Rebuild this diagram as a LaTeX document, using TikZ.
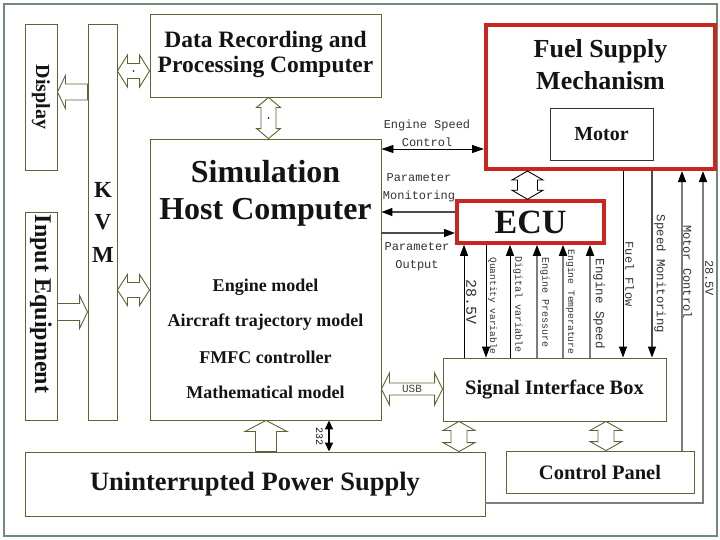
\documentclass[tikz,border=0pt]{standalone}
\usepackage{fontspec}
\setmainfont{Liberation Serif}
\newfontfamily\monof{Liberation Mono}
\usetikzlibrary{arrows.meta,calc}
\definecolor{boxc}{RGB}{88,104,52}
\definecolor{redc}{RGB}{200,38,30}
\definecolor{framec}{RGB}{110,140,120}
\definecolor{gline}{RGB}{125,125,125}
\definecolor{dline}{RGB}{75,75,75}
\definecolor{txtc}{RGB}{20,20,20}
% horizontal double block arrow: left point, right point, shaft half, head half, head length
\newcommand\hdbl[6][boxc]{%
 \draw[draw=#1, line width=0.9pt, fill=white] let \p1=#2, \p2=#3 in
 (\x1,\y1) -- (\x1+#6pt,\y1+#5pt) -- (\x1+#6pt,\y1+#4pt) -- (\x2-#6pt,\y1+#4pt) -- (\x2-#6pt,\y1+#5pt) -- (\x2,\y1)
 -- (\x2-#6pt,\y1-#5pt) -- (\x2-#6pt,\y1-#4pt) -- (\x1+#6pt,\y1-#4pt) -- (\x1+#6pt,\y1-#5pt) -- cycle;}
% vertical double block arrow: top point, bottom point
\newcommand\vdbl[6][boxc]{%
 \draw[draw=#1, line width=0.9pt, fill=white] let \p1=#2, \p2=#3 in
 (\x1,\y1) -- (\x1+#5pt,\y1-#6pt) -- (\x1+#4pt,\y1-#6pt) -- (\x1+#4pt,\y2+#6pt) -- (\x1+#5pt,\y2+#6pt) -- (\x1,\y2)
 -- (\x1-#5pt,\y2+#6pt) -- (\x1-#4pt,\y2+#6pt) -- (\x1-#4pt,\y1-#6pt) -- (\x1-#5pt,\y1-#6pt) -- cycle;}
% horizontal single block arrow: tail, tip
\newcommand\hsgl[6][boxc]{%
 \draw[draw=#1, line width=0.9pt, fill=white] let \p1=#2, \p2=#3, \n1={(\x2>\x1)*2-1} in
 (\x1,\y1+#4pt) -- ({\x2-\n1*#6pt},\y1+#4pt) -- ({\x2-\n1*#6pt},\y1+#5pt) -- (\x2,\y1)
 -- ({\x2-\n1*#6pt},\y1-#5pt) -- ({\x2-\n1*#6pt},\y1-#4pt) -- (\x1,\y1-#4pt) -- cycle;}
% vertical single block arrow: tail, tip
\newcommand\vsgl[6][boxc]{%
 \draw[draw=#1, line width=0.9pt, fill=white] let \p1=#2, \p2=#3, \n1={(\y2>\y1)*2-1} in
 (\x1+#4pt,\y1) -- (\x1+#4pt,{\y2-\n1*#6pt}) -- (\x1+#5pt,{\y2-\n1*#6pt}) -- (\x1,\y2)
 -- (\x1-#5pt,{\y2-\n1*#6pt}) -- (\x1-#4pt,{\y2-\n1*#6pt}) -- (\x1-#4pt,\y1) -- cycle;}
\begin{document}
\begin{tikzpicture}[x=1pt,y=1pt,
 every node/.style={inner sep=0pt, text=txtc},
 box/.style={draw=boxc, line width=0.9pt, inner sep=0pt},
 redbox/.style={draw=redc, line width=4pt, inner sep=0pt},
 ttl/.style={font=\bfseries\fontsize{20.5}{28}\selectfont, align=center},
 lbl/.style={font=\monof\fontsize{12}{18}\selectfont, text=black!80, align=center},
 vlbl/.style={lbl, rotate=-90, anchor=south},
 tip/.style={-{Triangle[length=11pt,width=8pt,color=black]}},
 cblack/.style={draw=black, line width=0.9pt},
 cdark/.style={draw=dline, line width=1.2pt},
 cgray/.style={draw=gline, line width=1.6pt},
]
\useasboundingbox (0,0) rectangle (720,-539);
\draw[framec, line width=1.2pt] (4,-4) rectangle (717,-536);

% boxes
\node[box, minimum width=32pt, minimum height=146pt] (display) at (41,-97) {};
\node[box, minimum width=29pt, minimum height=396pt] (kvm) at (102.5,-222) {};
\node[box, minimum width=32pt, minimum height=208pt] (input) at (41,-316) {};
\node[box, minimum width=231pt, minimum height=83pt] (drpc) at (265.5,-55.5) {};
\node[box, minimum width=231pt, minimum height=281pt] (sim) at (265.5,-279.5) {};
\node[redbox, minimum width=229pt, minimum height=144pt] (fsm) at (600.5,-97) {};
\node[draw=black!80, line width=0.9pt, minimum width=103pt, minimum height=52pt] (motor) at (601.5,-134) {};
\node[redbox, minimum width=147pt, minimum height=41.5pt] (ecu) at (530.5,-222) {};
\node[box, minimum width=223pt, minimum height=63pt] (sib) at (554.5,-389.5) {};
\node[box, minimum width=188pt, minimum height=42pt] (cp) at (600,-472) {};
\node[box, minimum width=460pt, minimum height=64pt] (ups) at (255,-484) {};

% box texts
\node[rotate=-90, font=\bfseries\fontsize{20}{24}\selectfont] (displayt) at (display.center) {Display};
\node[rotate=-90, font=\bfseries\fontsize{24}{26}\selectfont] (inputt) at (41,-304) {Input Equipment};
\node[align=center, font=\bfseries\fontsize{23}{32.5}\selectfont] (kvmt) at (103,-222) {K\\V\\M};
\node[align=center, font=\bfseries\fontsize{23.5}{25}\selectfont] (drpct) at (265.5,-54) {Data Recording and\\Processing Computer};
\node[align=center, font=\bfseries\fontsize{32}{37}\selectfont] (simt) at (265.5,-193) {Simulation\\Host Computer};
\node[font=\bfseries\fontsize{18}{20}\selectfont] (m1) at (265.5,-287) {Engine model};
\node[font=\bfseries\fontsize{18}{20}\selectfont] (m2) at (265.5,-322) {Aircraft trajectory model};
\node[font=\bfseries\fontsize{18}{20}\selectfont] (m3) at (265.5,-357) {FMFC controller};
\node[font=\bfseries\fontsize{18}{20}\selectfont] (m4) at (265.5,-392) {Mathematical model};
\node[align=center, font=\bfseries\fontsize{26}{32}\selectfont] (fsmt) at (600.5,-65) {Fuel Supply\\Mechanism};
\node[font=\bfseries\fontsize{20}{24}\selectfont] (motort) at (motor.center) {Motor};
\node[font=\bfseries\fontsize{34}{40}\selectfont] (ecut) at (ecu.center) {ECU};
\node[ttl] (sibt) at (sib.center) {Signal Interface Box};
\node[ttl] (cpt) at (cp.center) {Control Panel};
\node[font=\bfseries\fontsize{26.5}{30}\selectfont] (upst) at (ups.center) {Uninterrupted Power Supply};

% block arrows
\hsgl{(kvm.west |- 0,-92)}{(display.east |- 0,-92)}{8}{16.5}{8}
\hsgl{(input.east |- 0,-312)}{(kvm.west |- 0,-312)}{8.5}{16.5}{8}
\hdbl{(kvm.east |- 0,-71)}{(drpc.west |- 0,-71)}{7.5}{16}{10}
\fill ($(kvm.east |- 0,-71)!0.5!(drpc.west |- 0,-71)$) circle (0.9pt);
\hdbl{(kvm.east |- 0,-290)}{(sim.west |- 0,-290)}{7.5}{15.5}{10}
\vdbl{(drpc.south -| 268.5,0)}{(sim.north -| 268.5,0)}{7.5}{12}{10}
\fill ($(drpc.south -| 268.5,0)!0.5!(sim.north -| 268.5,0)$) circle (0.9pt);
\vdbl[black]{(fsm.south -| 527.5,0)}{(ecu.north -| 527.5,0)}{10}{15.5}{9}
\hdbl{(sim.east |- 0,-389)}{(sib.west |- 0,-389)}{6}{16}{8}
\node[font=\monof\fontsize{11}{12}\selectfont, text=black!75] (usb) at ($(sim.east |- 0,-389)!0.5!(sib.west |- 0,-389)$) {USB};
\vsgl{(ups.north -| 266,0)}{(sim.south -| 266,0)}{10.5}{21}{11}
\vdbl{(sib.south -| 459,0)}{(ups.north -| 459,0)}{8}{16}{9}
\vdbl{(sib.south -| 606,0)}{(cp.north -| 606,0)}{8}{16}{9}

% RS232
\draw[draw=black, line width=1.6pt, {Triangle[length=9pt,width=8pt]}-{Triangle[length=9pt,width=8pt]}] (ups.north -| 329,0) -- (sim.south -| 329,0);
\node[rotate=-90, anchor=north, font=\monof\fontsize{10}{12}\selectfont] (l232) at (323,-436) {232};

% thin connectors
\draw[cblack, {Triangle[length=12pt,width=8pt]}-{Triangle[length=12pt,width=8pt]}] (sim.east |- 0,-149) -- (fsm.west |- 0,-149);
\node[lbl] (lesc) at (427,-133) {Engine Speed\\Control};
\draw[cdark, tip] (ecu.west |- 0,-212) -- (sim.east |- 0,-212);
\node[lbl] (lpm) at (419,-188) {Parameter\\Monitoring};
\draw[cdark, tip] (sim.east |- 0,-233) -- (ecu.west |- 0,-233);
\node[lbl] (lpo) at (417,-257) {Parameter\\Output};

\draw[cblack, tip] (sib.north -| 464,0) -- (ecu.south -| 464,0);
\draw[cblack, tip] (ecu.south -| 486,0) -- (sib.north -| 486,0);
\draw[cblack, tip] (sib.north -| 510,0) -- (ecu.south -| 510,0);
\draw[cgray, tip] (sib.north -| 537,0) -- (ecu.south -| 537,0);
\draw[cgray, tip] (sib.north -| 563,0) -- (ecu.south -| 563,0);
\draw[cgray, tip] (sib.north -| 590,0) -- (ecu.south -| 590,0);
\draw[cblack, tip] (fsm.south -| 623,0) -- (sib.north -| 623,0);
\draw[cdark, tip] (fsm.south -| 652,0) -- (sib.north -| 652,0);
\draw[cgray, tip] (cp.north -| 682,0) -- (fsm.south -| 682,0);
\coordinate (pw) at (703,-503);
\draw[cgray, tip] (ups.east |- pw) -- (pw) -- (fsm.south -| pw);

\node[vlbl, font=\monof\fontsize{15}{18}\selectfont] (l285a) at (466,-302) {28.5V};
\node[vlbl, font=\monof\fontsize{9.5}{12}\selectfont] (lqv) at (488,-306) {Quantity variable};
\node[vlbl, font=\monof\fontsize{10}{12}\selectfont] (ldv) at (513,-305) {Digital variable};
\node[vlbl, font=\monof\fontsize{10}{12}\selectfont] (lep) at (540,-303) {Engine Pressure};
\node[vlbl, font=\monof\fontsize{9.7}{12}\selectfont] (let) at (566,-302) {Engine Temperature};
\node[vlbl, font=\monof\fontsize{12.5}{14}\selectfont] (les) at (593,-304) {Engine Speed};
\node[vlbl] (lff) at (625,-274) {Fuel Flow};
\node[vlbl, font=\monof\fontsize{12.3}{14}\selectfont] (lsm) at (654,-274) {Speed Monitoring};
\node[vlbl] (lmc) at (683,-272) {Motor Control};
\node[vlbl] (l285b) at (705,-278) {28.5V};
\end{tikzpicture}
\end{document}
